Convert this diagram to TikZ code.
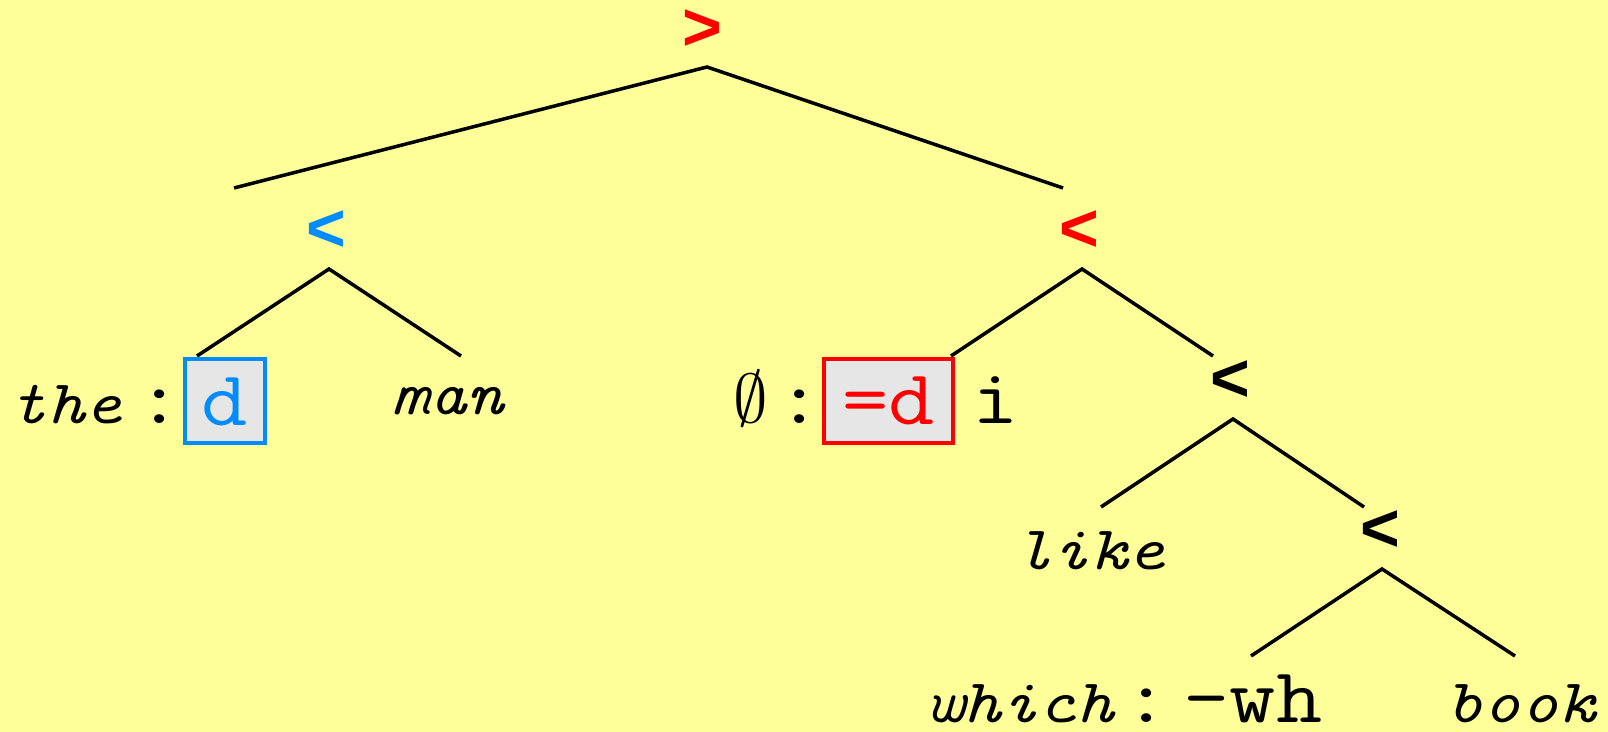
\RequirePackage{fix-cm}
\documentclass[tikz,border=0pt]{standalone}
\usepackage{fontspec}
\newfontfamily\leafmono[FakeStretch=1.15]{Latin Modern Mono}
\newfontfamily\opfont{Liberation Sans}
\definecolor{paper}{RGB}{255,255,153}
\definecolor{featblue}{RGB}{0,140,255}
\definecolor{featred}{RGB}{255,0,0}
\definecolor{boxgray}{RGB}{230,230,230}
\begin{document}
\begin{tikzpicture}[x=0.5pt,y=-0.5pt,
  op/.style={font=\opfont\bfseries\fontsize{34}{34}\selectfont, inner sep=0pt},
  word/.style={font=\leafmono\itshape\fontsize{31}{32}\selectfont, inner sep=0pt, anchor=base},
  feat/.style={font=\leafmono\fontsize{39}{40}\selectfont, inner sep=0pt, anchor=base},
  featbox/.style={draw=#1, text=#1, fill=boxgray, line width=2pt, inner sep=0pt,
    font=\leafmono\fontsize{39}{40}\selectfont},
  branch/.style={line width=1.75pt}]
  \fill[paper] (0,0) rectangle (1608,732);
  \useasboundingbox (0,0) rectangle (1608,732);

  % merge operators
  \node[op, text=featred]   (root) at (702,30)  {>};
  \node[op, text=featblue]  (dp)   at (326,231) {<};
  \node[op, text=featred]   (vp)   at (1079,231) {<};
  \node[op]                 (vbar) at (1230,381) {<};
  \node[op]                 (obj)  at (1380,531) {<};

  % branch points and free branch ends
  \coordinate (root-a) at (707,67);
  \coordinate (root-l) at (234,188);
  \coordinate (root-r) at (1063,188);
  \coordinate (dp-a)   at (329,269);
  \coordinate (dp-l)   at (197,356);
  \coordinate (dp-r)   at (461,356);
  \coordinate (vp-a)   at (1082,269);
  \coordinate (vp-l)   at (951,356);
  \coordinate (vp-r)   at (1213,356);
  \coordinate (vbar-a) at (1233,419);
  \coordinate (vbar-l) at (1101,507);
  \coordinate (vbar-r) at (1364,507);
  \coordinate (obj-a)  at (1382,569);
  \coordinate (obj-l)  at (1251,656);
  \coordinate (obj-r)  at (1515,656);

  \draw[branch] (root-l) -- (root-a) -- (root-r);
  \draw[branch] (dp-l) -- (dp-a) -- (dp-r);
  \draw[branch] (vp-l) -- (vp-a) -- (vp-r);
  \draw[branch] (vbar-l) -- (vbar-a) -- (vbar-r);
  \draw[branch] (obj-l) -- (obj-a) -- (obj-r);

  % leaves
  \node[word] (the)    at (66,424)  {the};
  \node[feat] (c1)     at (160,424) {:};
  \node[featbox=featblue, minimum width=40pt, minimum height=42pt] (dfeat) at (224.5,401.5) {d};
  \node[word] (man)    at (448,415) {man};

  \node[feat, font=\fontsize{34.5}{35}\selectfont] (empty) at (751,423) {$\emptyset$};
  \node[feat] (c2)     at (800,424) {:};
  \node[featbox=featred, minimum width=64.5pt, minimum height=42pt] (seld) at (888.5,401) {=d};
  \node[feat] (ifeat)  at (996,424) {i};

  \node[word] (like)   at (1090,570) {like};

  \node[word] (which)  at (1020,723) {which};
  \node[feat] (c3)     at (1147,723) {:};
  \node[feat] (wh)     at (1253,723) {-wh};
  \node[word] (book)   at (1521,722) {book};
\end{tikzpicture}
\end{document}
